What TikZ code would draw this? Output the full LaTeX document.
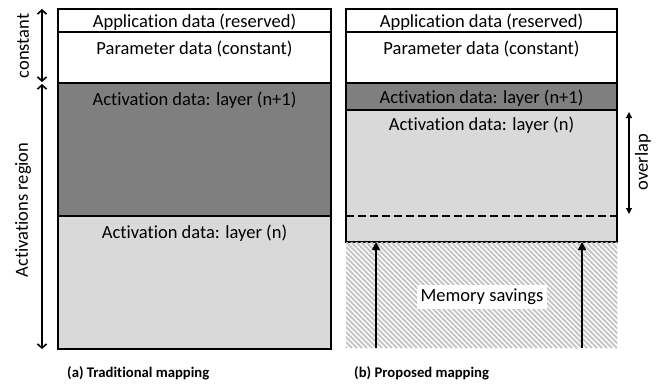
\documentclass[tikz,border=0pt]{standalone}
\usepackage{fontspec}
\setmainfont{Carlito}[Ligatures=NoCommon]
\usetikzlibrary{arrows.meta}

\definecolor{actdark}{HTML}{7F7F7F}
\definecolor{actlight}{HTML}{D9D9D9}
\definecolor{hatchgray}{HTML}{C6C6C6}

\begin{document}
\begin{tikzpicture}[x=1pt, y=-1pt,
    membox/.style={draw, line width=1.6pt, anchor=north west, inner sep=0pt, outer sep=0pt},
    boxtext/.style={anchor=base, font=\fontsize{18.5}{22}\selectfont, inner sep=0pt},
    sidetext/.style={rotate=90, font=\fontsize{18.5}{22}\selectfont, inner sep=0pt},
    capt/.style={anchor=base west, font=\bfseries\fontsize{14.7}{17}\selectfont, inner sep=0pt},
    dimarrow/.style={line width=1.6pt, {Straight Barb[length=4pt,width=9pt]}-{Straight Barb[length=4pt,width=9pt]}},
    ovarrow/.style={line width=1.2pt, {Triangle[length=6pt,width=6pt]}-{Triangle[length=6pt,width=6pt]}},
    savearrow/.style={line width=1.6pt, -{Triangle[length=8pt,width=8pt]}}]
  \useasboundingbox (0,0) rectangle (656,383);

  % (a) traditional mapping
  \node[membox, fill=white, minimum width=273pt, minimum height=23pt] (appA) at (58,9) {};
  \node[membox, fill=white, minimum width=273pt, minimum height=51pt] (parA) at (58,32) {};
  \node[membox, fill=actdark, minimum width=273pt, minimum height=133pt] (actnoneA) at (58,83) {};
  \node[membox, fill=actlight, minimum width=273pt, minimum height=133pt] (actnA) at (58,216) {};
  \node[boxtext] (appAtxt) at (194.5,27.5) {Application data (reserved)};
  \node[boxtext] (parAtxt) at (194.5,54) {Parameter data (constant)};
  \node[boxtext] (actnoneAtxt) at (194.5,105) {Activation data: layer (n+1)};
  \node[boxtext] (actnAtxt) at (194.5,238) {Activation data: layer (n)};

  % side arrows
  \coordinate (dimA) at (42,0);
  \draw[dimarrow] (dimA |- appA.north) -- ([yshift=1pt]dimA |- parA.south);
  \draw[dimarrow] ([yshift=-1pt]dimA |- actnoneA.north) -- (dimA |- actnA.south);
  \node[sidetext] (constlbl) at (23,46) {constant};
  \node[sidetext] (actlbl) at (23,210) {Activations region};

  % (b) proposed mapping
  \node[membox, fill=white, minimum width=271pt, minimum height=23pt] (appB) at (346,9) {};
  \node[membox, fill=white, minimum width=271pt, minimum height=51pt] (parB) at (346,32) {};
  \node[membox, fill=actdark, minimum width=271pt, minimum height=27pt] (actnoneB) at (346,83) {};
  \node[membox, fill=actlight, minimum width=271pt, minimum height=132pt] (actnB) at (346,110) {};
  \node[boxtext] (appBtxt) at (481.5,27.5) {Application data (reserved)};
  \node[boxtext] (parBtxt) at (481.5,54) {Parameter data (constant)};
  \node[boxtext] (actnoneBtxt) at (481.5,103) {Activation data: layer (n+1)};
  \node[boxtext] (actnBtxt) at (481.5,130) {Activation data: layer (n)};
  \coordinate (dashL) at (346,216);
  \coordinate (dashR) at (617,216);
  \draw[line width=1.6pt, dash pattern=on 8pt off 4pt] (dashL) -- (dashR);

  % overlap
  \coordinate (ovTop) at (629,112);
  \coordinate (ovBot) at (629,214);
  \draw[ovarrow] (ovTop) -- (ovBot);
  \node[sidetext] (ovlbl) at (643,162) {overlap};

  % memory savings (hatched)
  \node[anchor=north west, inner sep=0pt, minimum width=271pt, minimum height=106pt] (saveB) at (346,242) {};
  \begin{scope}
    \clip (saveB.north west) rectangle (saveB.south east);
    \foreach \i in {-110,-105,...,275}
      \draw[hatchgray, line width=1.8pt] (346+\i,242) -- ++(106,106);
  \end{scope}
  \node[fill=white, inner sep=4pt, font=\fontsize{18.5}{22}\selectfont] (savelbl) at (482,297) {Memory savings};
  \coordinate (upL) at (376,348);
  \coordinate (upR) at (582,348);
  \draw[savearrow] (upL) -- (upL |- actnB.south);
  \draw[savearrow] (upR) -- (upR |- actnB.south);

  % captions
  \node[capt] (captA) at (67,377) {(a) Traditional mapping};
  \node[capt] (captB) at (354,377) {(b) Proposed mapping};
\end{tikzpicture}
\end{document}
